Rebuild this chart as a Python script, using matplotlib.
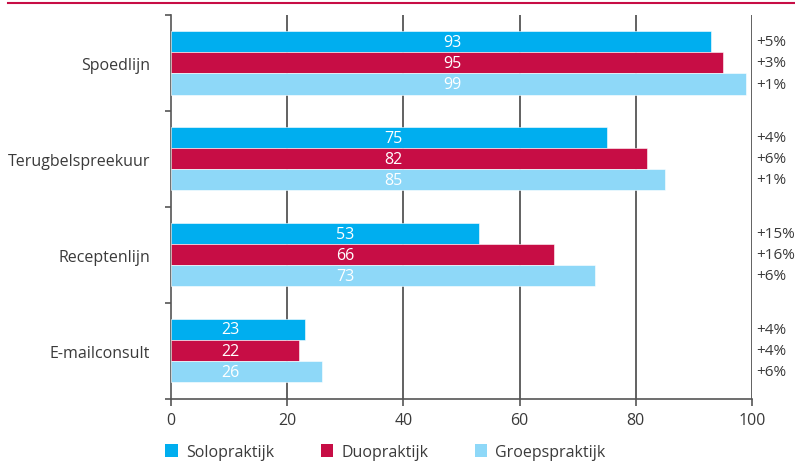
import matplotlib
matplotlib.use("Agg")
import matplotlib.pyplot as plt
from matplotlib.lines import Line2D
from matplotlib.patches import Patch
import numpy as np

categories = ["Spoedlijn", "Terugbelspreekuur", "Receptenlijn", "E-mailconsult"]
series_names = ["Solopraktijk", "Duopraktijk", "Groepspraktijk"]
solo = [93, 75, 53, 23]
duo = [95, 82, 66, 22]
groep = [99, 85, 73, 26]
solo_change = ["+5%", "+4%", "+15%", "+4%"]
duo_change = ["+3%", "+6%", "+16%", "+4%"]
groep_change = ["+1%", "+1%", "+6%", "+6%"]
xticks = [0, 20, 40, 60, 80, 100]

colors = ["#00AEEF", "#C70D45", "#8ED8F8"]
text_color = "#3a3a3a"
grid_color = "#555555"

plt.rcParams['font.family'] = ['Open Sans', 'DejaVu Sans']

fig = plt.figure(figsize=(7.95, 4.64), dpi=100)
ax = fig.add_axes([171/795, (464-399.5)/464, 581/795, 383.5/464])

series = [solo, duo, groep]
changes = [solo_change, duo_change, groep_change]
bar_h = 0.22
offsets = [-bar_h, 0, bar_h]
centers = np.arange(len(categories)) + 0.5
label_x = [48.4, 38.3, 30.0, 10.2]

for vals, off, col, ch in zip(series, offsets, colors, changes):
    ys = centers + off
    ax.barh(ys, vals, height=bar_h, color=col, edgecolor="white", linewidth=0.4, zorder=3)
    for y, v, lx, c in zip(ys, vals, label_x, ch):
        ax.text(lx, y, str(v), color="white", ha="center", va="center", fontsize=11.5, zorder=4)
        ax.text(100.8, y, c, color=text_color, ha="left", va="center", fontsize=11, clip_on=False)

ax.set_xlim(0, 100)
ax.set_ylim(len(categories), 0)

for x in xticks[1:]:
    ax.axvline(x, color=grid_color, lw=1.3, zorder=1)

ax.set_xticks(xticks)
ax.set_xticklabels([str(x) for x in xticks], color=text_color, fontsize=11.5)
ax.tick_params(axis='x', direction='out', length=5, width=1.2, color=grid_color, pad=5)

ax.set_yticks(centers)
ax.set_yticklabels(categories, color=text_color, fontsize=11.5)
ax.tick_params(axis='y', which='major', length=0, pad=15)
ax.set_yticks(np.arange(len(categories) + 1), minor=True)
ax.tick_params(axis='y', which='minor', direction='out', length=4, width=1.2, color=grid_color)

for s in ["top", "right"]:
    ax.spines[s].set_visible(False)
ax.spines["left"].set_color(grid_color)
ax.spines["left"].set_linewidth(1.2)
ax.spines["bottom"].set_color(grid_color)
ax.spines["bottom"].set_linewidth(1.2)

handles = [Patch(facecolor=c, edgecolor="none") for c in colors]
fig.legend(handles, series_names, loc="center left", bbox_to_anchor=(151/795, 1 - 453/464),
           ncol=3, frameon=False, handlelength=0.8, handleheight=0.8, handletextpad=0.5,
           columnspacing=2.9, fontsize=11.5, labelcolor=text_color)

fig.add_artist(Line2D([8/795, 1], [1 - 4/464, 1 - 4/464], color="#C70D45", lw=1.5))

fig.savefig("out.png", dpi=100)
